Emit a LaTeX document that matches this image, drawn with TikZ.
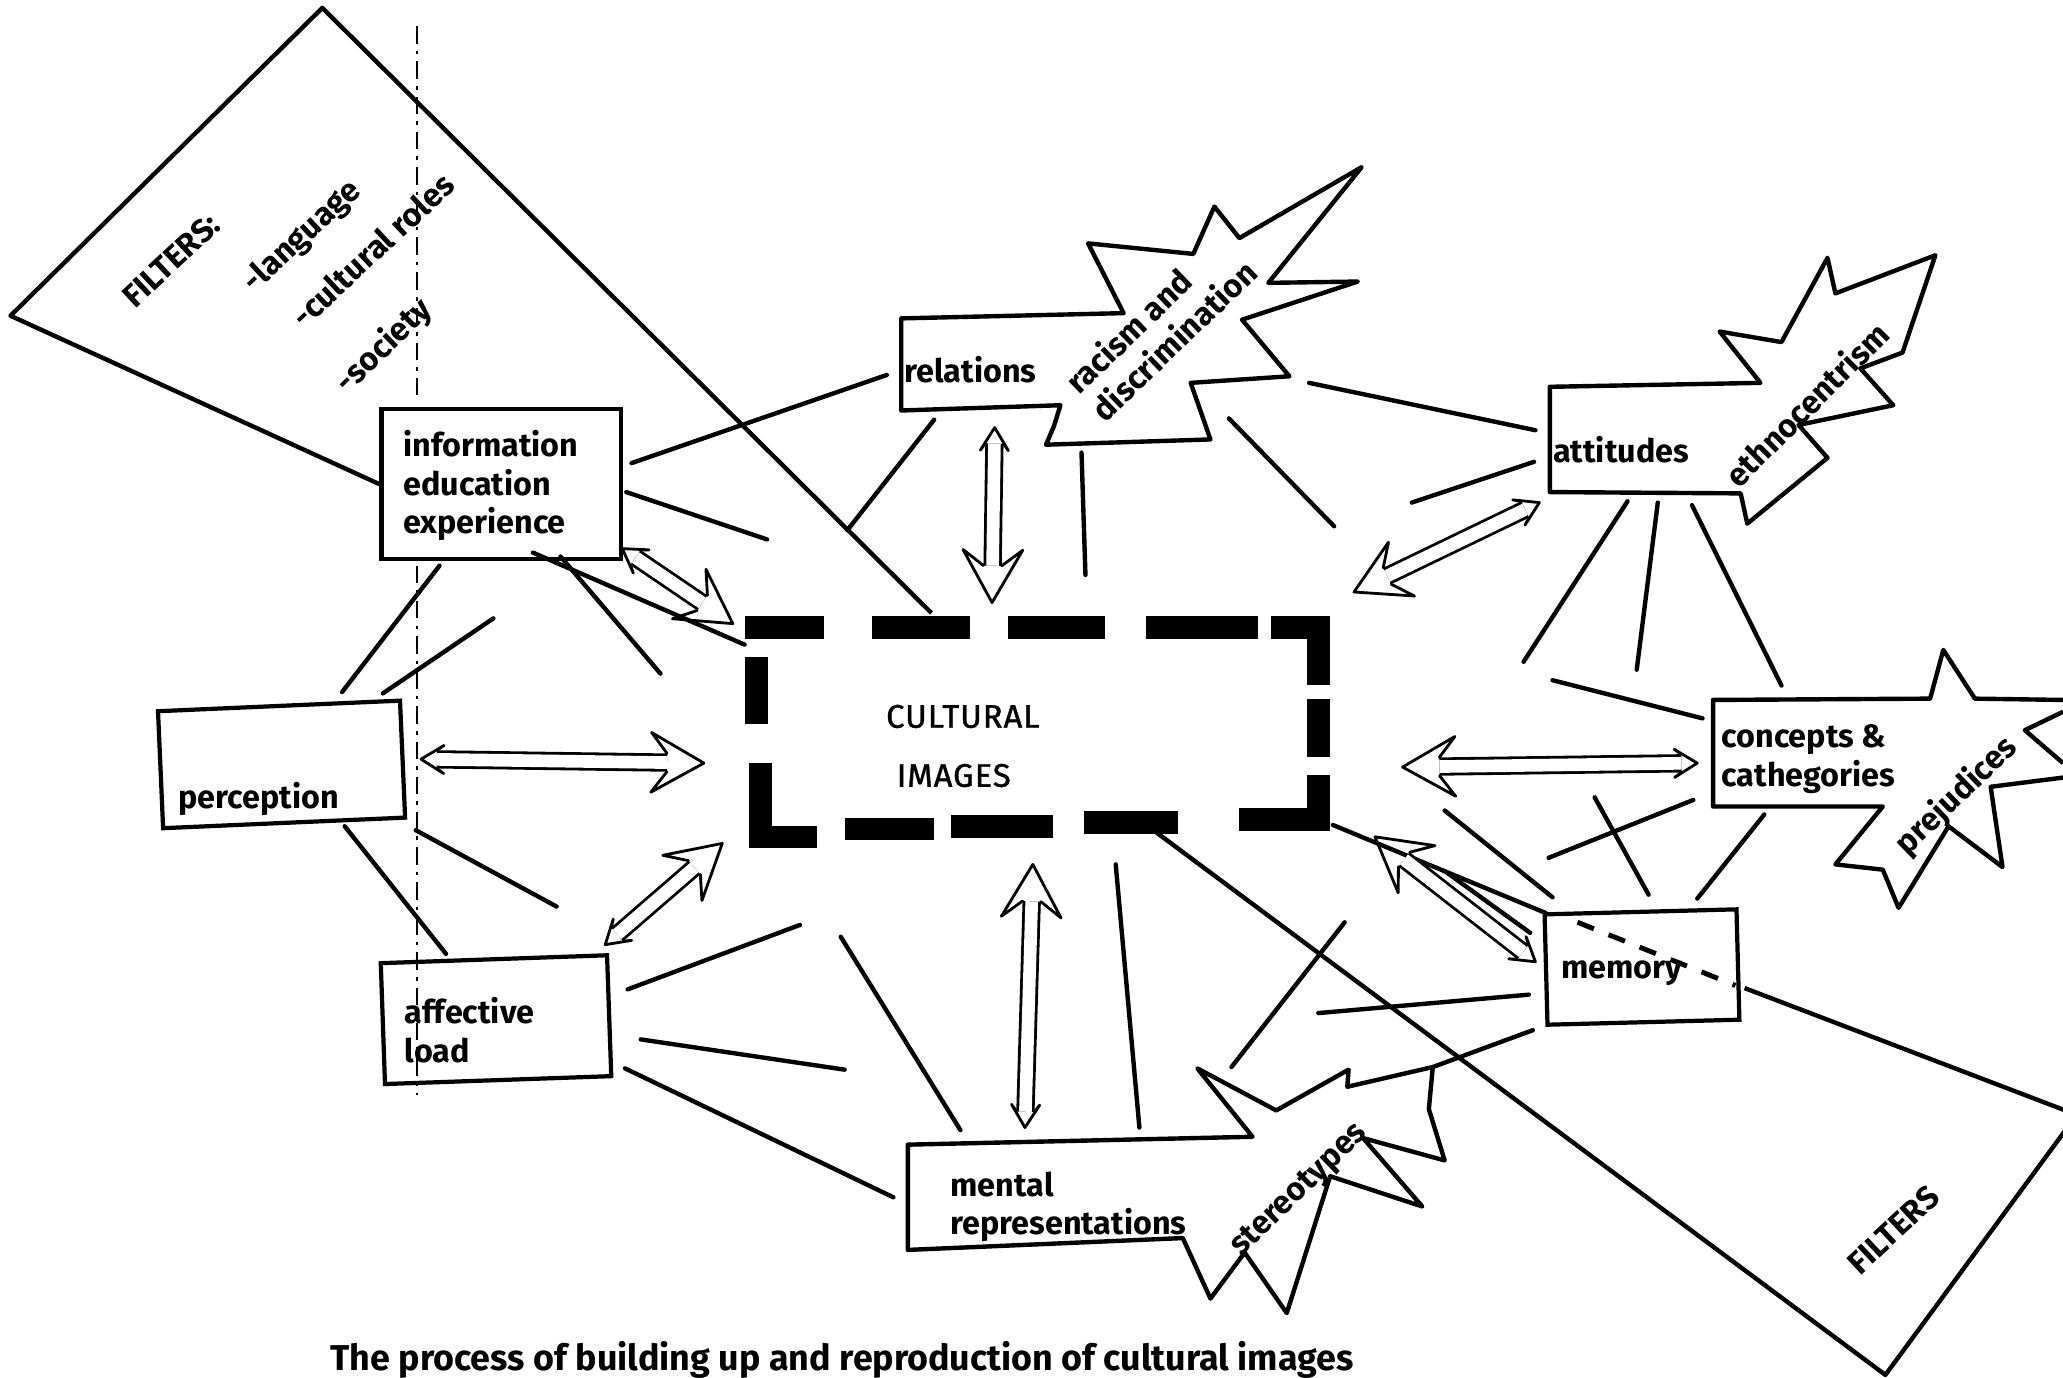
\documentclass[tikz,border=0pt]{standalone}
\usepackage{fontspec}
\setmainfont{Fira Sans}
\usepackage{tikz}
\usetikzlibrary{arrows.meta,decorations.markings}

\newcommand{\lblfont}{\fontsize{9.2pt}{10.9pt}\selectfont\bfseries}
\newcommand{\capfont}{\fontsize{10.2pt}{12pt}\selectfont\bfseries}
\newcommand{\cultfont}{\fontsize{9.3pt}{16.8pt}\selectfont\mdseries\addfontfeature{LetterSpace=3,FakeBold=1.2}}
% open head of a hand drawn double arrow: #1 length, #2 half width
\newcommand{\hollowtip}[2]{%
    \draw[line width=0.8pt, line join=round, line cap=round]
        ({-0.7*(#1)},2.6pt) -- ({-1*(#1)},#2) -- (0pt,0pt) -- ({-1*(#1)},{-1*(#2)}) -- ({-0.7*(#1)},-2.6pt);}
\tikzset{
    plainbox/.style = {draw, line width=1.2pt, inner sep=0pt},
    lbl/.style = {font=\lblfont, inner sep=0pt, align=left},
    spoke/.style = {line width=1.25pt, line cap=round},
    hollow/.style = {
        preaction={draw, line width=0.8pt, double, double distance=3.6pt, shorten <=4.5pt, shorten >=10.5pt},
        decoration={markings,
            mark=at position 0 with {\hollowtip{-6.5pt}{4pt}},
            mark=at position 1 with {\hollowtip{15pt}{8.5pt}}},
        postaction={decorate}},
    outline/.style = {line width=1.25pt, line join=round},
    heavydash/.style = {line width=6.4pt, line cap=butt, line join=miter},
}

\begin{document}
\begin{tikzpicture}[x=0.013157cm, y=-0.013157cm]
\path[fill=white, use as bounding box] (0,0) rectangle (1568,1047);

% plain boxes
\node[plainbox, minimum width=68.1pt, minimum height=42.7pt] (info) at (381,368) {};
\node[plainbox, minimum width=68.9pt, minimum height=33.3pt, rotate=2.5] (perc) at (214,581) {};
\node[plainbox, minimum width=64.4pt, minimum height=34.4pt, rotate=2] (aff) at (377,775) {};
\node[plainbox, minimum width=54.6pt, minimum height=31.4pt, rotate=1.5] (mem) at (1248,735) {};

% boxes that turn into stars
\draw[outline] (685,242) -- (854,238) -- (827,185) -- (907,193) -- (923,157) -- (942,181) -- (1035,127) -- (964,215) -- (1032,214) -- (944,243) -- (980,286) -- (905,291) -- (920,334) -- (795,338) -- (801,324) -- (806,308) -- (685,312) -- cycle;
\draw[outline] (1178,294) -- (1338,291) -- (1307,252) -- (1354,260) -- (1389,196) -- (1395,223) -- (1471,194) -- (1446,268) -- (1414,280) -- (1439,308) -- (1367,323) -- (1389,348) -- (1328,398) -- (1323,375) -- (1178,374) -- cycle;
\draw[outline] (1568,532) -- (1501,531) -- (1477,494) -- (1467,531) -- (1302,532) -- (1302,613) -- (1431,613) -- (1395,657) -- (1431,661) -- (1443,690) -- (1481,628) -- (1522,659) -- (1513,598) -- (1568,591);
\draw[outline] (1568,541) -- (1539,555) -- (1568,580);
\draw[outline] (690,870) -- (952,864) -- (910,812) -- (970,844) -- (1025,813) -- (1024,826) -- (1089,811) -- (1086,843) -- (1098,882) -- (1036,865) -- (1081,917) -- (1011,894) -- (978,998) -- (946,952) -- (920,987) -- (899,941) -- (690,950) -- cycle;

% the cultural images frame
\draw[heavydash] (566,477) -- (626,477) (663,477) -- (737,477) (766,477) -- (840,477) (871,477) -- (956,477);
\draw[heavydash] (966,477) -- (1002,477) -- (1002,521);
\draw[heavydash] (1002,531) -- (1002,575);
\draw[heavydash] (1002,589) -- (1002,623) -- (942,623);
\draw[heavydash] (895,625) -- (824,625) (800,628) -- (723,628) (710,630) -- (642,630);
\draw[heavydash] (575,499) -- (575,550);
\draw[heavydash] (578,580) -- (578,636) -- (621,636);
\node[font=\cultfont, inner sep=0pt, align=left, anchor=west] (cult) at (673,567) {CULTURAL\\\hspace*{3pt}IMAGES};

% texts
\node[lbl, anchor=west] (info-t) at (306,369) {information\\education\\experience};
\node[lbl, anchor=west] (perc-t) at (135,607) {perception};
\node[lbl, anchor=west] (aff-t) at (307,783) {affective\\load};
\node[lbl, anchor=west] (mem-t) at (1186,740) {memory};
\node[lbl, anchor=west] (rel-t) at (687,281) {relations};
\node[lbl, anchor=west] (att-t) at (1180,342) {attitudes};
\node[lbl, anchor=west] (conc-t) at (1308,577) {concepts \&\\cathegories};
\node[lbl, anchor=west] (ment-t) at (722,917) {mental\\representations};
\node[lbl, rotate=44] (rac-t) at (882,248) {racism and\\discrimination};
\node[lbl, rotate=45] (eth-t) at (1373,307) {ethnocentrism};
\node[lbl, rotate=44] (prej-t) at (1487,605) {prejudices};
\node[lbl, rotate=44] (ster-t) at (988,905) {stereotypes};
\node[lbl, rotate=43] (filt-t) at (130,198) {FILTERS:};
\node[lbl, rotate=43] (lang-t) at (230,180) {-language};
\node[lbl, rotate=43] (role-t) at (283,190) {-cultural roles};
\node[lbl, rotate=44] (soc-t) at (292,263) {-society};
\node[lbl, rotate=43] (filt2-t) at (1439,935) {FILTERS};
\node[font=\capfont, inner sep=0pt] (caption) at (640,1034) {The process of building up and reproduction of cultural images};

% end points
\foreach \n/\x/\y in {info-r1/480/352, rel-l/674/285, info-r2/476/374, sp-a/583/410,
    info-b1/405/420, cult-nw/566/490, info-b2/426/423, sp-b/502/512,
    info-b3/334/430, perc-n1/260/526, sp-c/375/470, perc-n2/291/527,
    rel-b/710/319, sp-d/644/403, rac-b1/822/344, sp-e/825/437,
    rac-b2/934/318, sp-f/1014/400, rac-r/995/291, att-l1/1167/327,
    att-l2/1166/351, sp-g/1073/382, att-b1/1237/381, sp-h/1158/503,
    att-b2/1260/382, sp-i/1244/509, att-b3/1286/384, conc-n/1354/521,
    sp-j/1180/517, conc-l1/1294/546, conc-l2/1287/608, sp-k/1177/652,
    sp-l/1212/606, mem-n1/1253/680, conc-b/1341/619, mem-n2/1290/683,
    sp-m/1098/616, mem-n3/1180/682, mem-l1/1163/709, sp-n/1098/662,
    mem-l2/1162/756, sp-o/1002/770, mem-l3/1165/783, ster-r/1089/811,
    sp-p/1022/701, ster-n/936/811, cult-s1/848/657, ment-n1/866/857,
    sp-q/639/712, ment-n2/730/859, aff-r1/477/752, sp-r/608/703,
    aff-r2/487/790, sp-s/642/813, aff-r3/475/812, ment-w/679/910,
    perc-s1/262/628, aff-n/339/725, perc-s2/316/631, sp-t/423/689,
    cult-se/1013/627, mem-nw/1175/694}
    \coordinate (\n) at (\x,\y);

\foreach \n/\x/\y in {info-a/473/417, cult-a1/557/474, perc-a/320/577, cult-a2/535/580,
    aff-a/460/718, cult-a3/549/641, ment-a/779/857, cult-a4/785/657,
    rel-a/756/325, cult-a5/754/458, att-a/1170/382, cult-a6/1029/450,
    conc-a/1290/580, cult-a7/1066/583, mem-a/1167/731, cult-a8/1045/636}
    \coordinate (\n) at (\x,\y);

% filters
\coordinate (cult-tl) at (708,466);
\coordinate (cult-s2) at (878,632);
\coordinate (mem-d1) at (1199,701);
\coordinate (mem-d2) at (1319,749);
\coordinate (mem-e) at (1326,751);
\draw[outline] (info.west) -- (8,240) -- (245,6) -- (cult-tl);
\draw[outline] (cult-s2) -- (1433,1045) -- (1575,852);
\draw[outline] (mem-e) -- (1575,846);
\draw[line width=1.4pt, dash pattern=on 5pt off 4.5pt] (mem-d1) -- (mem-d2);
\draw[line width=0.6pt, dash pattern=on 5pt off 2pt on 1pt off 2pt] (317,20) -- (317,305) (317,430) -- (317,832);

% spokes
\foreach \a/\b in {info-r1/rel-l, info-r2/sp-a, info-b1/cult-nw, info-b2/sp-b,
    info-b3/perc-n1, sp-c/perc-n2, rel-b/sp-d, rac-b1/sp-e, rac-b2/sp-f,
    rac-r/att-l1, att-l2/sp-g, att-b1/sp-h, att-b2/sp-i, att-b3/conc-n,
    sp-j/conc-l1, conc-l2/sp-k, sp-l/mem-n1, conc-b/mem-n2, sp-m/mem-n3,
    mem-l1/sp-n, mem-l2/sp-o, mem-l3/ster-r, sp-p/ster-n, cult-s1/ment-n1,
    sp-q/ment-n2, aff-r1/sp-r, aff-r2/sp-s, aff-r3/ment-w, perc-s1/aff-n,
    perc-s2/sp-t, cult-se/mem-nw}
    \draw[spoke] (\a) -- (\b);

% hollow arrows
\foreach \a/\b in {info-a/cult-a1, perc-a/cult-a2, aff-a/cult-a3, ment-a/cult-a4,
    rel-a/cult-a5, att-a/cult-a6, conc-a/cult-a7, mem-a/cult-a8}
    \path[hollow] (\a) -- (\b);
\end{tikzpicture}
\end{document}
